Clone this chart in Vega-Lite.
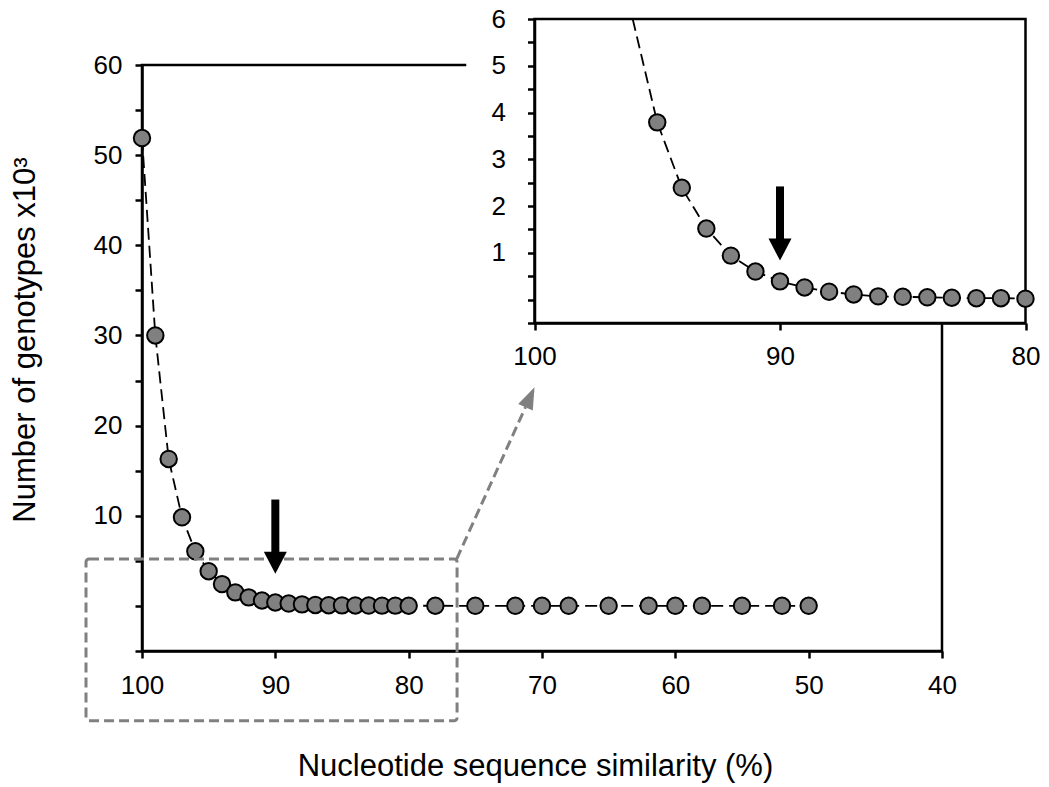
{
  "$schema": "https://vega.github.io/schema/vega-lite/v6.json",
  "width": 800,
  "height": 586,
  "autosize": {"type": "none"},
  "padding": {"left": 142, "top": 65, "right": 107, "bottom": 136},
  "background": "white",
  "config": {
    "view": {"stroke": "black", "strokeWidth": 2.5},
    "axis": {
      "labelFont": "Liberation Sans", "titleFont": "Liberation Sans",
      "labelColor": "black", "titleColor": "black",
      "domainColor": "black", "tickColor": "black",
      "domainWidth": 2.5, "tickWidth": 2.5, "tickSize": 7,
      "grid": false, "labelFontSize": 26, "titleFontSize": 31,
      "titleFontWeight": "normal", "labelFlush": false, "labelOverlap": false
    }
  },
  "datasets": {
    "main": [
      {"sim": 100, "n": 51.9}, {"sim": 99, "n": 30.0}, {"sim": 98, "n": 16.3}, {"sim": 97, "n": 9.83},
      {"sim": 96, "n": 6.06}, {"sim": 95, "n": 3.85}, {"sim": 94, "n": 2.42}, {"sim": 93, "n": 1.5},
      {"sim": 92, "n": 0.95}, {"sim": 91, "n": 0.6}, {"sim": 90, "n": 0.38}, {"sim": 89, "n": 0.26},
      {"sim": 88, "n": 0.17}, {"sim": 87, "n": 0.11}, {"sim": 86, "n": 0.08}, {"sim": 85, "n": 0.06},
      {"sim": 84, "n": 0.05}, {"sim": 83, "n": 0.04}, {"sim": 82, "n": 0.03}, {"sim": 81, "n": 0.03},
      {"sim": 80, "n": 0.02}, {"sim": 78, "n": 0.02}, {"sim": 75, "n": 0.01}, {"sim": 72, "n": 0.01},
      {"sim": 70, "n": 0.01}, {"sim": 68, "n": 0.01}, {"sim": 65, "n": 0.01}, {"sim": 62, "n": 0.01},
      {"sim": 60, "n": 0.01}, {"sim": 58, "n": 0.01}, {"sim": 55, "n": 0.01}, {"sim": 52, "n": 0.01},
      {"sim": 50, "n": 0.01}
    ],
    "inset": [
      {"sim": 96, "n": 6.0}, {"sim": 95, "n": 3.79}, {"sim": 94, "n": 2.39}, {"sim": 93, "n": 1.52},
      {"sim": 92, "n": 0.94}, {"sim": 91, "n": 0.6}, {"sim": 90, "n": 0.39}, {"sim": 89, "n": 0.26},
      {"sim": 88, "n": 0.17}, {"sim": 87, "n": 0.11}, {"sim": 86, "n": 0.07}, {"sim": 85, "n": 0.06},
      {"sim": 84, "n": 0.05}, {"sim": 83, "n": 0.04}, {"sim": 82, "n": 0.03}, {"sim": 81, "n": 0.03},
      {"sim": 80, "n": 0.02}
    ]
  },
  "layer": [
    {
      "data": {"name": "main"},
      "mark": {"type": "line", "stroke": "black", "strokeWidth": 1.8, "strokeDash": [12, 6], "clip": false},
      "encoding": {
        "x": {"field": "sim", "type": "quantitative",
          "scale": {"domain": [100, 40], "nice": false, "zero": false},
          "axis": {"orient": "bottom", "values": [100, 90, 80, 70, 60, 50, 40],
            "title": "Nucleotide sequence similarity (%)",
            "labelBaseline": "alphabetic", "labelPadding": 35,
            "titleX": 393, "titleY": 124.5, "titleBaseline": "alphabetic"}},
        "y": {"field": "n", "type": "quantitative",
          "scale": {"domain": [-5, 60], "nice": false, "zero": false},
          "axis": {"orient": "left", "values": [-5, 0, 5, 10, 15, 20, 25, 30, 35, 40, 45, 50, 55, 60],
            "format": "~g",
            "labelExpr": "datum.value >= 10 && datum.value % 10 === 0 ? datum.label : ''",
            "title": "Number of genotypes x10³",
            "labelPadding": 13, "labelBaseline": "middle",
            "titleX": -107.5, "titleY": 274.5, "titleBaseline": "alphabetic"}}
      }
    },
    {
      "data": {"name": "main"},
      "mark": {"type": "point", "shape": "circle", "filled": true, "fill": "#808080", "stroke": "black", "strokeWidth": 2, "size": 270, "opacity": 1, "clip": false},
      "encoding": {
        "x": {"field": "sim", "type": "quantitative", "scale": {"domain": [100, 40], "nice": false, "zero": false}, "axis": null},
        "y": {"field": "n", "type": "quantitative", "scale": {"domain": [-5, 60], "nice": false, "zero": false}, "axis": null}
      }
    },
    {
      "data": {"values": [{}]},
      "mark": {"type": "rect", "fill": "white", "fillOpacity": 0, "stroke": "#808080", "strokeWidth": 3, "strokeDash": [10, 5], "cornerRadius": 3, "clip": false},
      "encoding": {
        "x": {"datum": 104.2, "type": "quantitative", "scale": {"domain": [100, 40], "nice": false, "zero": false}, "axis": null},
        "x2": {"datum": 76.37},
        "y": {"datum": 5.2, "type": "quantitative", "scale": {"domain": [-5, 60], "nice": false, "zero": false}, "axis": null},
        "y2": {"datum": -12.74}
      }
    },
    {
      "data": {"values": [{}]},
      "mark": {"type": "rule", "stroke": "#808080", "strokeWidth": 3, "strokeDash": [10, 5], "clip": false},
      "encoding": {
        "x": {"datum": 76.4, "type": "quantitative", "scale": {"domain": [100, 40], "nice": false, "zero": false}, "axis": null},
        "x2": {"datum": 71.24},
        "y": {"datum": 5.2, "type": "quantitative", "scale": {"domain": [-5, 60], "nice": false, "zero": false}, "axis": null},
        "y2": {"datum": 22.04}
      }
    },
    {
      "data": {"values": [{}]},
      "mark": {"type": "point", "shape": "M0,-1L-0.727,1L0.727,1Z", "filled": true, "fill": "#808080", "strokeWidth": 0, "size": 484, "angle": 24.3, "opacity": 1, "clip": false},
      "encoding": {
        "x": {"datum": 70.9, "type": "quantitative", "scale": {"domain": [100, 40], "nice": false, "zero": false}, "axis": null},
        "y": {"datum": 23.15, "type": "quantitative", "scale": {"domain": [-5, 60], "nice": false, "zero": false}, "axis": null}
      }
    },
    {
      "data": {"values": [{}]},
      "mark": {"type": "rule", "stroke": "black", "strokeWidth": 8, "strokeCap": "butt", "clip": false},
      "encoding": {
        "x": {"datum": 90, "type": "quantitative", "scale": {"domain": [100, 40], "nice": false, "zero": false}, "axis": null},
        "y": {"datum": 11.8, "type": "quantitative", "scale": {"domain": [-5, 60], "nice": false, "zero": false}, "axis": null},
        "y2": {"datum": 5.8}
      }
    },
    {
      "data": {"values": [{}]},
      "mark": {"type": "point", "shape": "M-1,-0.96L1,-0.96L0,0.96Z", "filled": true, "fill": "black", "strokeWidth": 0, "size": 529, "opacity": 1, "clip": false},
      "encoding": {
        "x": {"datum": 90, "type": "quantitative", "scale": {"domain": [100, 40], "nice": false, "zero": false}, "axis": null},
        "y": {"datum": 4.78, "type": "quantitative", "scale": {"domain": [-5, 60], "nice": false, "zero": false}, "axis": null}
      }
    },
    {
      "data": {"values": [{}]},
      "mark": {"type": "rect", "fill": "white", "strokeWidth": 0, "clip": false},
      "encoding": {
        "x": {"datum": 102.78, "type": "quantitative",
          "scale": {"domain": [100, 80], "range": [392.5, 883.5], "nice": false, "zero": false},
          "axis": {"orient": "bottom", "offset": -328, "values": [100, 90, 80], "title": null,
            "labelBaseline": "alphabetic", "labelPadding": 34.5, "zindex": 1}},
        "x2": {"datum": 77},
        "y": {"datum": -0.5, "type": "quantitative",
          "scale": {"domain": [-0.5, 6], "range": [258, -46], "nice": false, "zero": false},
          "axis": {"orient": "left", "offset": -392.5,
            "values": [-0.5, 0, 0.5, 1, 1.5, 2, 2.5, 3, 3.5, 4, 4.5, 5, 5.5, 6],
            "format": "~g",
            "labelExpr": "datum.value >= 1 && datum.value % 1 === 0 ? datum.label : ''",
            "title": null, "labelPadding": 22, "labelBaseline": "middle", "zindex": 1}},
        "y2": {"datum": 6.6}
      }
    },
    {
      "data": {"values": [{}]},
      "mark": {"type": "rect", "fill": "white", "fillOpacity": 0, "stroke": "black", "strokeWidth": 2.5, "clip": false},
      "encoding": {
        "x": {"datum": 100, "type": "quantitative", "scale": {"domain": [100, 80], "range": [392.5, 883.5], "nice": false, "zero": false}, "axis": null},
        "x2": {"datum": 80},
        "y": {"datum": -0.5, "type": "quantitative", "scale": {"domain": [-0.5, 6], "range": [258, -46], "nice": false, "zero": false}, "axis": null},
        "y2": {"datum": 6}
      }
    },
    {
      "data": {"name": "inset"},
      "mark": {"type": "line", "stroke": "black", "strokeWidth": 1.8, "strokeDash": [12, 6], "clip": false},
      "encoding": {
        "x": {"field": "sim", "type": "quantitative", "scale": {"domain": [100, 80], "range": [392.5, 883.5], "nice": false, "zero": false}, "axis": null},
        "y": {"field": "n", "type": "quantitative", "scale": {"domain": [-0.5, 6], "range": [258, -46], "nice": false, "zero": false}, "axis": null}
      }
    },
    {
      "data": {"name": "inset"},
      "transform": [{"filter": "datum.sim <= 95"}],
      "mark": {"type": "point", "shape": "circle", "filled": true, "fill": "#808080", "stroke": "black", "strokeWidth": 2, "size": 270, "opacity": 1, "clip": false},
      "encoding": {
        "x": {"field": "sim", "type": "quantitative", "scale": {"domain": [100, 80], "range": [392.5, 883.5], "nice": false, "zero": false}, "axis": null},
        "y": {"field": "n", "type": "quantitative", "scale": {"domain": [-0.5, 6], "range": [258, -46], "nice": false, "zero": false}, "axis": null}
      }
    },
    {
      "data": {"values": [{}]},
      "mark": {"type": "rule", "stroke": "black", "strokeWidth": 8, "strokeCap": "butt", "clip": false},
      "encoding": {
        "x": {"datum": 90, "type": "quantitative", "scale": {"domain": [100, 80], "range": [392.5, 883.5], "nice": false, "zero": false}, "axis": null},
        "y": {"datum": 2.42, "type": "quantitative", "scale": {"domain": [-0.5, 6], "range": [258, -46], "nice": false, "zero": false}, "axis": null},
        "y2": {"datum": 1.28}
      }
    },
    {
      "data": {"values": [{}]},
      "mark": {"type": "point", "shape": "M-1,-0.96L1,-0.96L0,0.96Z", "filled": true, "fill": "black", "strokeWidth": 0, "size": 529, "opacity": 1, "clip": false},
      "encoding": {
        "x": {"datum": 90, "type": "quantitative", "scale": {"domain": [100, 80], "range": [392.5, 883.5], "nice": false, "zero": false}, "axis": null},
        "y": {"datum": 1.07, "type": "quantitative", "scale": {"domain": [-0.5, 6], "range": [258, -46], "nice": false, "zero": false}, "axis": null}
      }
    }
  ],
  "resolve": {"scale": {"x": "independent", "y": "independent"}}
}
